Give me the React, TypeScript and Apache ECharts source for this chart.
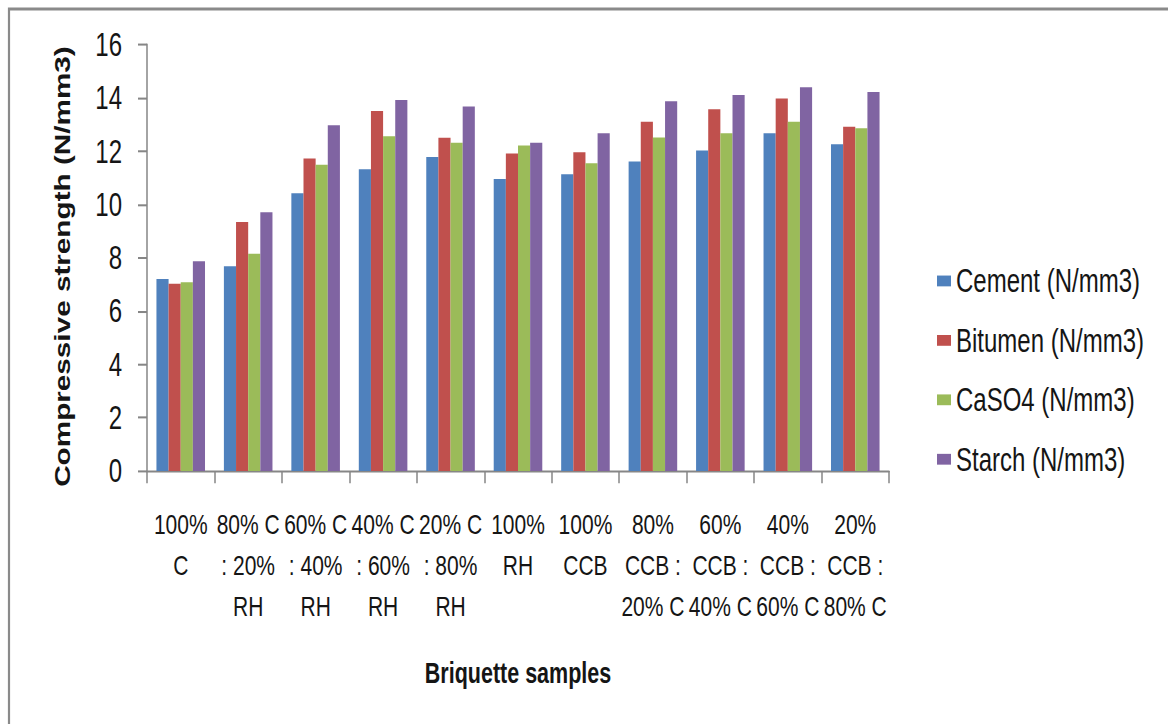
import React, { useEffect, useRef } from "react";
import * as echarts from "echarts";

const categories = [
  "100%\nC",
  "80% C\n: 20%\nRH",
  "60% C\n: 40%\nRH",
  "40% C\n: 60%\nRH",
  "20% C\n: 80%\nRH",
  "100%\nRH",
  "100%\nCCB",
  "80%\nCCB :\n20% C",
  "60%\nCCB :\n40% C",
  "40%\nCCB :\n60% C",
  "20%\nCCB :\n80% C",
];

const cement = [7.2, 7.68, 10.42, 11.32, 11.78, 10.96, 11.13, 11.61, 12.03, 12.67, 12.26];
const bitumen = [7.03, 9.34, 11.73, 13.51, 12.5, 11.91, 11.96, 13.1, 13.57, 13.98, 12.92];
const caso4 = [7.08, 8.15, 11.49, 12.56, 12.32, 12.21, 11.55, 12.51, 12.67, 13.1, 12.86];
const starch = [7.87, 9.71, 12.97, 13.92, 13.68, 12.32, 12.67, 13.87, 14.11, 14.4, 14.22];

const seriesNames = ["Cement (N/mm3)", "Bitumen (N/mm3)", "CaSO4 (N/mm3)", "Starch (N/mm3)"];
const seriesColors = ["#4F81BD", "#C0504D", "#9BBB59", "#8064A2"];
const yTicks = { min: 0, max: 16, interval: 2 };

const FONT = "'Liberation Sans', Arial, sans-serif";
const AXIS_GRAY = "#868686";
const TEXT = "#151515";

// The chart is laid out on a shorter canvas and stretched vertically,
// which gives the lettering its tall, condensed look.
const WIDTH = 1168;
const HEIGHT = 536;
const STRETCH = 724 / HEIGHT;

export default function App() {
  const ref = useRef<HTMLDivElement>(null);

  useEffect(() => {
    if (!ref.current) return;
    const chart = echarts.init(ref.current, null, { renderer: "svg" });
    const values = [cement, bitumen, caso4, starch];

    chart.setOption({
      animation: false,
      backgroundColor: "#ffffff",
      textStyle: { fontFamily: FONT },
      graphic: [
        {
          type: "rect",
          shape: { x: 9, y: 6.7, width: 1400, height: 1000 },
          style: { fill: "none", stroke: "#8a8a8a", lineWidth: 2.2 },
          silent: true,
        },
      ],
      legend: {
        orient: "vertical",
        left: 932,
        top: 191,
        itemWidth: 14,
        itemHeight: 8,
        itemGap: 20,
        icon: "rect",
        textStyle: { fontFamily: FONT, fontSize: 24, lineHeight: 24, color: TEXT },
        data: seriesNames,
      },
      grid: { left: 147, right: 279, top: 33, bottom: 187.3 },
      xAxis: {
        type: "category",
        data: categories,
        name: "Briquette samples",
        nameLocation: "middle",
        nameGap: 138,
        nameTextStyle: { fontFamily: FONT, fontWeight: "bold", fontSize: 21.5, lineHeight: 22, color: TEXT },
        axisLine: { lineStyle: { color: AXIS_GRAY, width: 1.5 } },
        axisTick: { show: true, length: 9, alignWithLabel: false, lineStyle: { color: AXIS_GRAY, width: 1.5 } },
        axisLabel: {
          interval: 0,
          margin: 23.7,
          fontFamily: FONT,
          fontSize: 21,
          lineHeight: 30.4,
          color: TEXT,
        },
      },
      yAxis: {
        type: "value",
        min: yTicks.min,
        max: yTicks.max,
        interval: yTicks.interval,
        name: "Compressive strength (N/mm3)",
        nameLocation: "middle",
        nameGap: 74,
        nameTextStyle: {
          fontFamily: FONT,
          fontWeight: "bold",
          fontSize: 22,
          color: TEXT,
          padding: [0, 13, 0, 0],
        },
        splitLine: { show: false },
        axisLine: { show: true, lineStyle: { color: AXIS_GRAY, width: 1.5 } },
        axisTick: { show: true, length: 9, lineStyle: { color: AXIS_GRAY, width: 1.5 } },
        axisLabel: { margin: 25, fontFamily: FONT, fontSize: 24, color: TEXT },
      },
      series: seriesNames.map((name, i) => ({
        name,
        type: "bar",
        data: values[i],
        barGap: "0%",
        barCategoryGap: "28%",
        itemStyle: { color: seriesColors[i] },
      })),
    });

    return () => chart.dispose();
  }, []);

  return (
    <div
      ref={ref}
      style={{
        position: "fixed",
        left: 0,
        top: 0,
        width: WIDTH,
        height: HEIGHT,
        background: "#fff",
        transform: `scaleY(${STRETCH})`,
        transformOrigin: "0 0",
      }}
    />
  );
}
